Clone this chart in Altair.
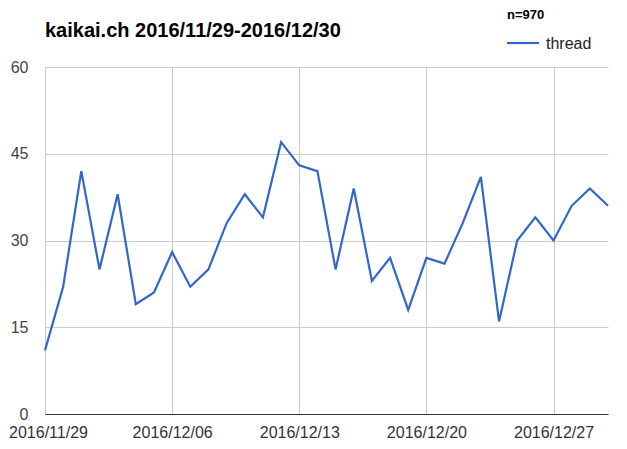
import altair as alt
import pandas as pd

dates = pd.date_range("2016-11-29", "2016-12-30", freq="D").strftime("%Y-%m-%d").tolist()
threads = [11, 22, 42, 25, 38, 19, 21, 28, 22, 25, 33, 38, 34, 47, 43, 42,
           25, 39, 23, 27, 18, 27, 26, 33, 41, 16, 30, 34, 30, 36, 39, 36]
tick_dates = ["2016-11-29", "2016-12-06", "2016-12-13", "2016-12-20", "2016-12-27"]
y_ticks = [0, 15, 30, 45, 60]
title_text = "kaikai.ch 2016/11/29-2016/12/30"
n_text = "n=970"
series_name = "thread"

df = pd.DataFrame({"date": dates, "value": threads})

FONT = "Liberation Sans"
W, H = 563, 347


def dt(s):
    y, m, d = map(int, s.split("-"))
    return alt.DateTime(year=y, month=m, date=d, utc=True)


line = alt.Chart(df).mark_line(color="#3366cc", strokeWidth=2.2).encode(
    x=alt.X("date:T",
            scale=alt.Scale(type="utc", nice=False, domain=[dt(dates[0]), dt(dates[-1])]),
            axis=alt.Axis(values=[dt(t) for t in tick_dates], format="%Y/%m/%d",
                          title=None, grid=True, gridColor="#cccccc", ticks=False,
                          domainColor="#333333", labelColor="#333333", labelFontSize=16,
                          labelFont=FONT, labelPadding=10, labelFlush=False,
                          labelOverlap=False,
                          labelOffset={"condition": {"test": "datum.index == 0", "value": 3},
                                       "value": 0})),
    y=alt.Y("value:Q",
            scale=alt.Scale(domain=[0, 60], nice=False),
            axis=alt.Axis(values=y_ticks, title=None, grid=True, gridColor="#cccccc",
                          ticks=False, domain=False, labelColor="#444444",
                          labelFontSize=16, labelFont=FONT, labelPadding=17)),
)

title = alt.Chart().mark_text(align="left", baseline="middle", fontSize=20,
                              fontWeight="bold", font=FONT, color="#000000").encode(
    x=alt.value(0), y=alt.value(-36), text=alt.value(title_text))

ntext = alt.Chart().mark_text(align="left", baseline="middle", fontSize=13,
                              fontWeight="bold", font=FONT, color="#000000").encode(
    x=alt.value(462), y=alt.value(-52), text=alt.value(n_text))

leg_line = alt.Chart().mark_rule(color="#3366cc", strokeWidth=2.2).encode(
    x=alt.value(462), x2=alt.value(494), y=alt.value(-24))

leg_text = alt.Chart().mark_text(align="left", baseline="middle", fontSize=16,
                                 font=FONT, color="#222222").encode(
    x=alt.value(501), y=alt.value(-23), text=alt.value(series_name))

chart = alt.layer(line, title, ntext, leg_line, leg_text).properties(
    width=W, height=H,
    autosize=alt.AutoSizeParams(type="none"),
    padding={"left": 37, "top": 59, "right": 10, "bottom": 30},
).configure_view(stroke=None)

chart.save("out.html", embed_options={"renderer": "svg", "actions": False})
